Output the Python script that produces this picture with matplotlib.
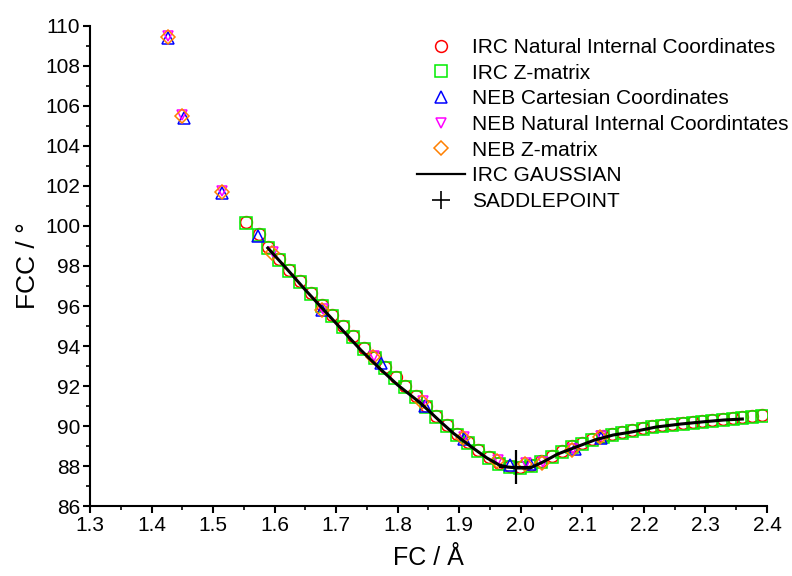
import matplotlib
matplotlib.use("Agg")
import matplotlib.pyplot as plt
from matplotlib.lines import Line2D
from matplotlib.ticker import MultipleLocator, FormatStrFormatter

plt.rcParams['font.family'] = ['Liberation Sans', 'DejaVu Sans']

# IRC Z-matrix (green squares)
irc_z_x = [1.554, 1.574, 1.589, 1.607, 1.624, 1.641, 1.659, 1.677, 1.693, 1.711,
           1.728, 1.745, 1.763, 1.780, 1.796, 1.812, 1.829, 1.846, 1.863, 1.880,
           1.897, 1.914, 1.931, 1.948, 1.965, 1.982, 1.999, 2.016, 2.033, 2.050,
           2.067, 2.084, 2.100, 2.116, 2.133, 2.149, 2.165, 2.181, 2.198, 2.214,
           2.230, 2.246, 2.263, 2.279, 2.295, 2.311, 2.328, 2.344, 2.360, 2.376, 2.392]
irc_z_y = [100.15, 99.55, 98.9, 98.3, 97.75, 97.2, 96.6, 96.0, 95.5, 94.95,
           94.45, 93.85, 93.4, 92.9, 92.4, 91.95, 91.45, 90.95, 90.45, 90.0,
           89.55, 89.15, 88.75, 88.4, 88.1, 87.95, 87.9, 88.0, 88.2, 88.45,
           88.7, 88.95, 89.1, 89.3, 89.45, 89.55, 89.65, 89.75, 89.85, 89.95,
           90.0, 90.05, 90.1, 90.15, 90.2, 90.25, 90.3, 90.35, 90.4, 90.45, 90.5]

# IRC Natural Internal Coordinates (red circles)
irc_nat_x = [1.554, 1.574, 1.590, 1.607, 1.624, 1.641, 1.659, 1.677, 1.694, 1.711,
             1.728, 1.746, 1.763, 1.780, 1.797, 1.812, 1.829, 1.846, 1.863, 1.880,
             1.897, 1.914, 1.931, 1.948, 1.965, 1.982, 1.999, 2.016, 2.033, 2.050,
             2.067, 2.084, 2.100, 2.116, 2.133, 2.149, 2.165, 2.181, 2.198, 2.214,
             2.230, 2.246, 2.263, 2.279, 2.295, 2.311, 2.328, 2.344, 2.360, 2.376, 2.392]
irc_nat_y = [100.2, 99.6, 98.95, 98.35, 97.8, 97.25, 96.65, 96.05, 95.55, 95.0,
             94.5, 93.9, 93.45, 92.95, 92.45, 92.0, 91.5, 91.0, 90.5, 90.05,
             89.6, 89.2, 88.8, 88.45, 88.15, 88.0, 87.95, 88.05, 88.25, 88.5,
             88.75, 89.0, 89.15, 89.35, 89.5, 89.6, 89.7, 89.8, 89.9, 90.0,
             90.05, 90.1, 90.15, 90.2, 90.25, 90.3, 90.35, 90.4, 90.45, 90.5, 90.55]

# NEB Cartesian Coordinates (blue up triangles)
neb_cart_x = [1.427, 1.452, 1.515, 1.573, 1.677, 1.773, 1.845, 1.908, 1.983, 2.015, 2.088, 2.130]
neb_cart_y = [109.4, 105.4, 101.65, 99.5, 95.8, 93.15, 91.0, 89.35, 88.05, 88.1, 88.85, 89.4]

# NEB Natural Internal Coordinates (magenta down triangles)
neb_nat_x = [1.426, 1.449, 1.514, 1.597, 1.678, 1.761, 1.841, 1.907, 1.963, 2.008, 2.036, 2.085, 2.130]
neb_nat_y = [109.5, 105.55, 101.75, 98.7, 95.85, 93.5, 91.25, 89.45, 88.3, 88.15, 88.2, 88.85, 89.5]

# NEB Z-matrix (orange diamonds)
neb_z_x = [1.427, 1.450, 1.515, 1.596, 1.677, 1.760, 1.840, 1.906, 1.962, 2.007, 2.035, 2.084, 2.129]
neb_z_y = [109.45, 105.5, 101.7, 98.65, 95.8, 93.45, 91.2, 89.4, 88.25, 88.1, 88.15, 88.8, 89.45]

# IRC GAUSSIAN (black line)
gauss_x = [1.589, 1.62, 1.65, 1.68, 1.71, 1.74, 1.77, 1.80, 1.837, 1.87, 1.89,
           1.92, 1.945, 1.965, 1.978, 1.995, 2.015, 2.036, 2.06, 2.09, 2.12,
           2.15, 2.18, 2.22, 2.26, 2.30, 2.33, 2.36]
gauss_y = [98.9, 97.85, 96.8, 95.8, 94.8, 93.8, 92.9, 92.05, 91.15, 90.2, 89.65,
           88.95, 88.4, 88.05, 87.95, 87.9, 87.9, 88.2, 88.6, 88.95, 89.3,
           89.55, 89.7, 89.95, 90.1, 90.22, 90.3, 90.35]

# Saddle point
saddle_x = [1.993]
saddle_y = [87.95]

labels = ['IRC Natural Internal Coordinates', 'IRC Z-matrix', 'NEB Cartesian Coordinates',
          'NEB Natural Internal Coordintates', 'NEB Z-matrix', 'IRC GAUSSIAN', 'SADDLEPOINT']

fig = plt.figure(figsize=(7.92, 5.76), dpi=100)
ax = fig.add_axes([0.1136, 0.1215, 0.8548, 0.8334])

mew = 1.1
st_circ = dict(linestyle='none', marker='o', ms=8.5, mfc='none', mec='#ff0000', mew=mew)
st_sq = dict(linestyle='none', marker='s', ms=8.2, mfc='none', mec='#00ee00', mew=mew)
st_up = dict(linestyle='none', marker='^', ms=8.5, mfc='none', mec='#0000ff', mew=mew)
st_dn = dict(linestyle='none', marker='v', ms=6.8, mfc='none', mec='#ff00ff', mew=mew)
st_di = dict(linestyle='none', marker='D', ms=7.5, mfc='none', mec='#ff8000', mew=mew)

ax.plot(irc_nat_x, irc_nat_y, **st_circ)
ax.plot(irc_z_x, irc_z_y, **st_sq)
ax.plot(neb_cart_x, neb_cart_y, **st_up)
ax.plot(neb_nat_x, neb_nat_y, **st_dn)
ax.plot(neb_z_x, neb_z_y, **st_di)
ax.plot(gauss_x, gauss_y, color='black', lw=2.2)
ax.plot(saddle_x, saddle_y, linestyle='none', marker='+', ms=24, mec='black', mew=1.6)

ax.set_xlim(1.3, 2.4)
ax.set_ylim(86, 110)
ax.xaxis.set_major_locator(MultipleLocator(0.1))
ax.xaxis.set_minor_locator(MultipleLocator(0.05))
ax.yaxis.set_major_locator(MultipleLocator(2))
ax.yaxis.set_minor_locator(MultipleLocator(1))
ax.xaxis.set_major_formatter(FormatStrFormatter('%.1f'))

for s in ['top', 'right']:
    ax.spines[s].set_visible(False)
for s in ['left', 'bottom']:
    ax.spines[s].set_linewidth(1.5)
ax.tick_params(which='major', direction='out', length=5, width=1.5, labelsize=15, pad=2)
ax.tick_params(which='minor', direction='out', length=3, width=1.2)

ax.set_xlabel('FC / Å', fontsize=18, labelpad=8)
ax.set_ylabel('FCC / °', fontsize=19, labelpad=4)

handles = [
    Line2D([], [], **st_circ),
    Line2D([], [], **st_sq),
    Line2D([], [], **st_up),
    Line2D([], [], **st_dn),
    Line2D([], [], **st_di),
    Line2D([], [], color='black', lw=1.6),
    Line2D([], [], linestyle='none', marker='+', ms=13, mec='black', mew=1.2),
]
ax.legend(handles, labels, loc='upper left', bbox_to_anchor=(0.483, 0.975), frameon=False,
          fontsize=15, handlelength=2.3, handletextpad=0.35, labelspacing=0.32, borderaxespad=0,
          borderpad=0)

fig.savefig('out.png', dpi=100)
